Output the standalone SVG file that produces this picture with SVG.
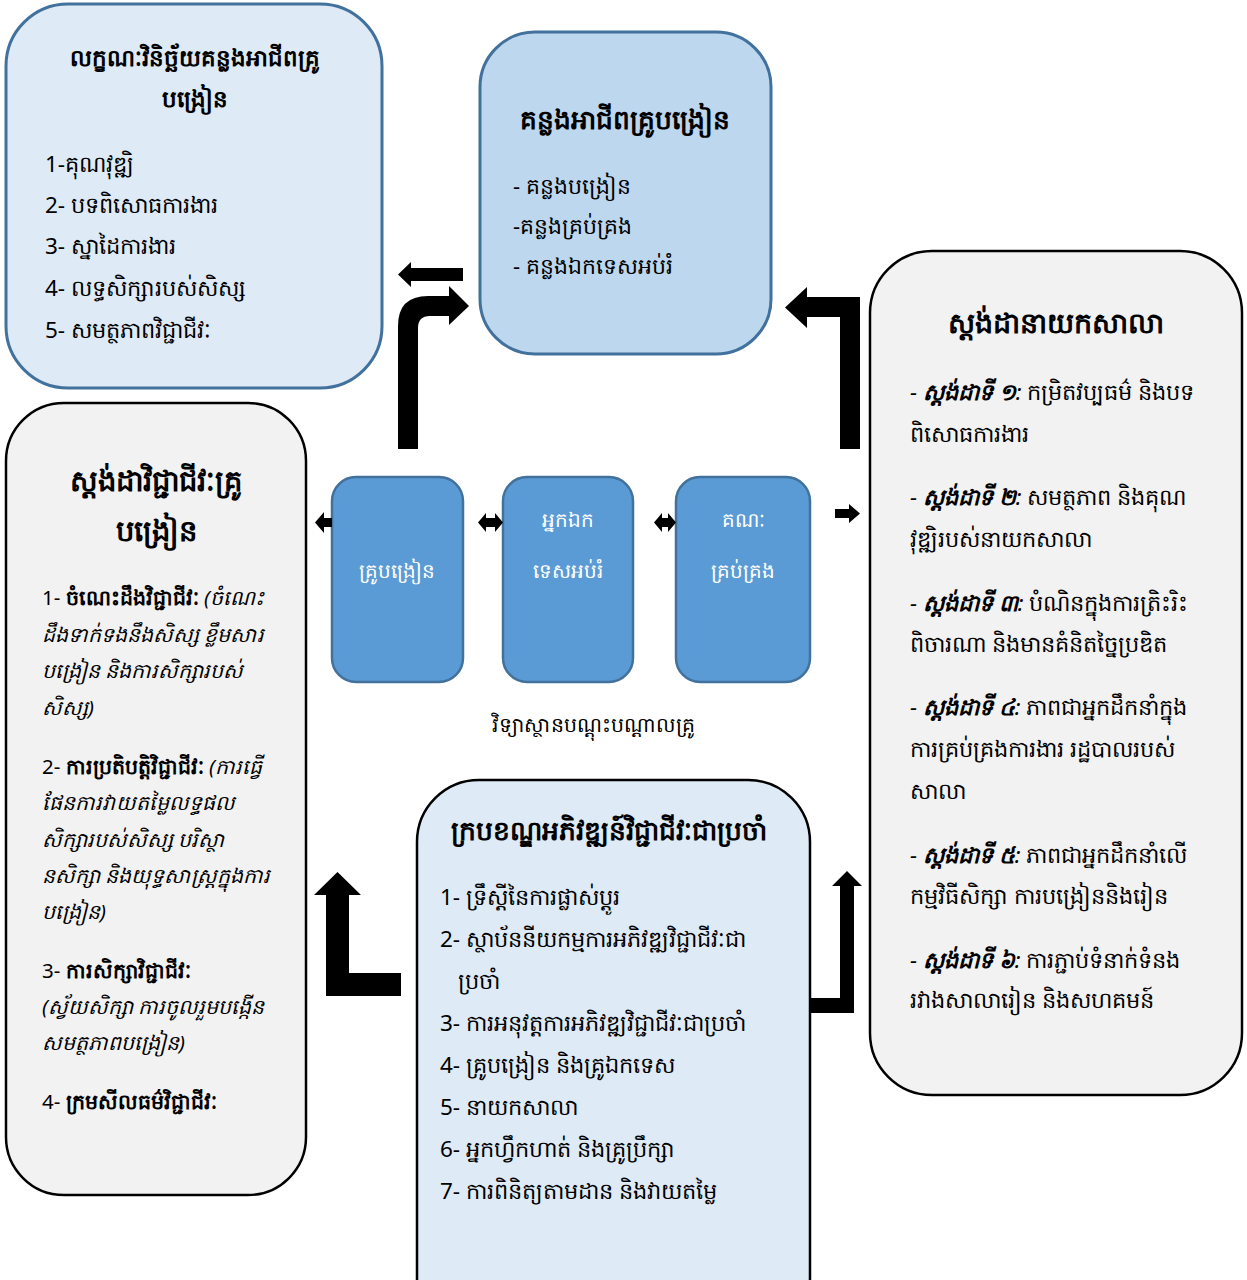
<svg xmlns="http://www.w3.org/2000/svg" width="1247" height="1280" viewBox="0 0 1247 1280">
<style>
text{font-family:"Noto Sans","Noto Sans CJK SC",sans-serif;fill:#000}
.t{font-weight:bold;text-anchor:middle}
.w{fill:#fff;font-size:20px;text-anchor:middle}
.b{font-weight:bold}
.i{font-style:italic}
.lb{fill:#DEEAF6;stroke:#41719C;stroke-width:3}
.mb{fill:#BDD7EE;stroke:#41719C;stroke-width:3}
.gr{fill:#F2F2F2;stroke:#000;stroke-width:2.5}
.lb2{fill:#DEEAF6;stroke:#000;stroke-width:2.5}
.db{fill:#5B9BD5;stroke:#41719C;stroke-width:2.5}
.ar{fill:#000}
</style>
<rect width="1247" height="1280" fill="#fff"/>
<g id="criteria">
<rect class="lb" x="6" y="4" width="376" height="384" rx="62"/>
<text class="t" x="195" y="66" font-size="23">លក្ខណៈវិនិច្ឆ័យគន្លងអាជីពគ្រូ</text>
<text class="t" x="195" y="107" font-size="23">បង្រៀន</text>
<g font-size="22.5">
<text x="45" y="172">1-គុណវុឌ្ឍិ</text>
<text x="45" y="213">2- បទពិសោធការងារ</text>
<text x="45" y="254">3- ស្នាដៃការងារ</text>
<text x="45" y="296">4- លទ្ធសិក្សារបស់សិស្ស</text>
<text x="45" y="338">5- សមត្ថភាពវិជ្ជាជីវៈ</text>
</g>
</g>
<g id="career">
<rect class="mb" x="480" y="32" width="291" height="322" rx="55"/>
<text class="t" x="625" y="129" font-size="26.5">គន្លងអាជីពគ្រូបង្រៀន</text>
<g font-size="22">
<text x="513" y="194">- គន្លងបង្រៀន</text>
<text x="513" y="234">-គន្លងគ្រប់គ្រង</text>
<text x="513" y="274">- គន្លងឯកទេសអប់រំ</text>
</g>
</g>
<g id="principal">
<rect class="gr" x="870" y="251" width="372" height="844" rx="62"/>
<text class="t" x="1056" y="333" font-size="28.5">ស្តង់ដានាយកសាលា</text>
<g font-size="22.5">
<text x="910" y="400"><tspan class="i">- </tspan><tspan class="b i">ស្តង់ដាទី ១</tspan><tspan class="i">:</tspan> កម្រិតវប្បធម៌ និងបទ</text>
<text x="910" y="442">ពិសោធការងារ</text>
<text x="910" y="505"><tspan class="i">- </tspan><tspan class="b i">ស្តង់ដាទី ២</tspan><tspan class="i">:</tspan> សមត្ថភាព និងគុណ</text>
<text x="910" y="547">វុឌ្ឍិរបស់នាយកសាលា</text>
<text x="910" y="611"><tspan class="i">- </tspan><tspan class="b i">ស្តង់ដាទី ៣</tspan><tspan class="i">:</tspan> បំណិនក្នុងការត្រិះរិះ</text>
<text x="910" y="652">ពិចារណា និងមានគំនិតច្នៃប្រឌិត</text>
<text x="910" y="715"><tspan class="i">- </tspan><tspan class="b i">ស្តង់ដាទី ៤</tspan><tspan class="i">:</tspan> ភាពជាអ្នកដឹកនាំក្នុង</text>
<text x="910" y="757">ការគ្រប់គ្រងការងារ រដ្ឋបាលរបស់</text>
<text x="910" y="799">សាលា</text>
<text x="910" y="863"><tspan class="i">- </tspan><tspan class="b i">ស្តង់ដាទី ៥</tspan><tspan class="i">:</tspan> ភាពជាអ្នកដឹកនាំលើ</text>
<text x="910" y="904">កម្មវិធីសិក្សា ការបង្រៀននិងរៀន</text>
<text x="910" y="968"><tspan class="i">- </tspan><tspan class="b i">ស្តង់ដាទី ៦</tspan><tspan class="i">:</tspan> ការភ្ជាប់ទំនាក់ទំនង</text>
<text x="910" y="1008">រវាងសាលារៀន និងសហគមន៍</text>
</g>
</g>
<g id="teacher-standard">
<rect class="gr" x="6" y="403" width="300" height="792" rx="58"/>
<text class="t" x="156" y="491" font-size="29">ស្តង់ដាវិជ្ជាជីវៈគ្រូ</text>
<text class="t" x="156" y="541" font-size="29">បង្រៀន</text>
<g font-size="20.5">
<text x="42" y="605">1- <tspan class="b">ចំណេះដឹងវិជ្ជាជីវៈ</tspan><tspan class="i"> (ចំណេះ</tspan></text>
<text class="i" x="42" y="642">ដឹងទាក់ទងនឹងសិស្ស ខ្លឹមសារ</text>
<text class="i" x="42" y="678">បង្រៀន និងការសិក្សារបស់</text>
<text class="i" x="42" y="715">សិស្ស)</text>
<text x="42" y="774">2- <tspan class="b">ការប្រតិបត្តិវិជ្ជាជីវៈ</tspan><tspan class="i"> (ការធ្វើ</tspan></text>
<text class="i" x="42" y="810">ផែនការវាយតម្លៃលទ្ធផល</text>
<text class="i" x="42" y="847">សិក្សារបស់សិស្ស បរិស្ថា</text>
<text class="i" x="42" y="883">នសិក្សា និងយុទ្ធសាស្ត្រក្នុងការ</text>
<text class="i" x="42" y="919">បង្រៀន)</text>
<text x="42" y="978">3- <tspan class="b">ការសិក្សាវិជ្ជាជីវៈ</tspan></text>
<text class="i" x="42" y="1014">(ស្វ័យសិក្សា ការចូលរួមបង្កើន</text>
<text class="i" x="42" y="1050">សមត្ថភាពបង្រៀន)</text>
<text x="42" y="1109">4- <tspan class="b">ក្រមសីលធម៌វិជ្ជាជីវៈ</tspan></text>
</g>
</g>
<g id="teacher">
<rect class="db" x="332" y="477" width="131" height="205" rx="24"/>
<text class="w" x="397" y="578">គ្រូបង្រៀន</text>
</g>
<g id="specialist">
<rect class="db" x="503" y="477" width="130" height="205" rx="24"/>
<text class="w" x="568" y="527">អ្នកឯក</text>
<text class="w" x="568" y="578">ទេសអប់រំ</text>
</g>
<g id="management">
<rect class="db" x="676" y="477" width="134" height="205" rx="24"/>
<text class="w" x="743" y="527">គណៈ</text>
<text class="w" x="743" y="578">គ្រប់គ្រង</text>
</g>
<text x="593" y="732" font-size="20.5" text-anchor="middle">វិទ្យាស្ថានបណ្តុះបណ្តាលគ្រូ</text>
<g id="framework">
<rect class="lb2" x="417" y="780" width="393" height="560" rx="62"/>
<text class="t" x="609" y="840" font-size="26.5">ក្របខណ្ឌអភិវឌ្ឍន៍វិជ្ជាជីវៈជាប្រចាំ</text>
<g font-size="22.5">
<text x="440" y="905">1- ទ្រឹស្តីនៃការផ្លាស់ប្តូរ</text>
<text x="440" y="947">2- ស្ថាប័ននីយកម្មការអភិវឌ្ឍវិជ្ជាជីវៈជា</text>
<text x="458" y="989">ប្រចាំ</text>
<text x="440" y="1031">3- ការអនុវត្តការអភិវឌ្ឍវិជ្ជាជីវៈជាប្រចាំ</text>
<text x="440" y="1073">4- គ្រូបង្រៀន និងគ្រូឯកទេស</text>
<text x="440" y="1115">5- នាយកសាលា</text>
<text x="440" y="1157">6- អ្នកហ្វឹកហាត់ និងគ្រូប្រឹក្សា</text>
<text x="440" y="1199">7- ការពិនិត្យតាមដាន និងវាយតម្លៃ</text>
</g>
</g>
<g id="connectors">
<path class="ar" d="M463,268 H411 V262 L398,274.5 L411,287 V281 H463 Z"/>
<path class="ar" d="M398,449 V326 Q398,296 428,296 H449 V286 L469,306 L449,325 V316 H430 Q418,316 418,328 V449 Z"/>
<path class="ar" d="M860,449 V297 H807 V287 L785,307.5 L807,328 V317 H840 V449 Z"/>
<path class="ar" d="M326,996 V895 H314 L337.5,872 L361,895 H349 V973 H401 V996 Z"/>
<path class="ar" d="M810,998 H840 V886 H832 L847,871 L862,886 H854 V1013 H810 Z"/>
<path class="ar" d="M332,518 H324 V512 L315,522.5 L324,533 V527 H332 Z"/>
<path class="ar" d="M478,522.5 L486,513 V518 H495 V513 L503,522.5 L495,532 V527 H486 V532 Z"/>
<path class="ar" d="M654,522.5 L662,513 V518 H668 V513 L676,522.5 L668,532 V527 H662 V532 Z"/>
<path class="ar" d="M835,509 H849 V504 L860,513.5 L849,523 V518 H835 Z"/>
</g>
</svg>
